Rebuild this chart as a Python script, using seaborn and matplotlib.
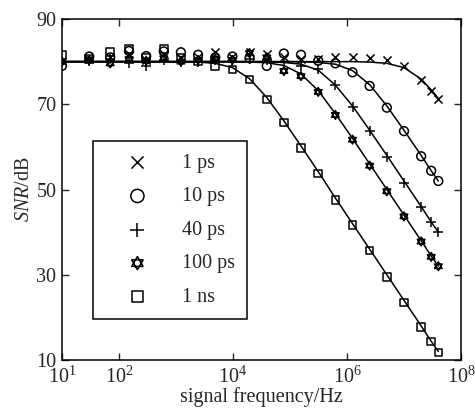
import numpy as np
import pandas as pd
import matplotlib
matplotlib.use("Agg")
import matplotlib.pyplot as plt
import seaborn as sns
from matplotlib.path import Path

# ---------------- data ----------------
freq_hz = [10, 30, 70, 150, 300, 610, 1220, 2440, 4880, 9770, 19500, 39100,
           78100, 156000, 313000, 625000, 1.25e6, 2.5e6, 5e6, 1e7, 2e7, 3e7, 4e7]

series_labels = ["1 ps", "10 ps", "40 ps", "100 ps", "1 ns"]

# simulated SNR points (markers)
snr_1ps = [80.2, 80.6, 81.0, 81.8, 80.4, 81.9, 80.8, 81.0, 82.3, 81.0, 82.3, 81.9,
           81.0, 80.6, 80.6, 81.2, 81.2, 80.8, 80.4, 79.0, 75.8, 73.2, 71.3]
snr_10ps = [79.0, 81.2, 81.0, 82.5, 81.3, 82.4, 82.2, 81.6, 81.0, 81.2, 80.8, 79.0,
            81.9, 81.6, 80.2, 79.6, 77.5, 74.3, 69.2, 63.7, 57.8, 54.4, 52.0]
snr_40ps = [80.0, 80.2, 80.6, 79.6, 79.0, 80.4, 79.8, 80.0, 80.4, 80.2, 80.6, 80.4,
            79.8, 79.0, 78.2, 74.5, 69.3, 63.7, 57.6, 51.6, 45.8, 42.3, 40.0]
snr_100ps = [80.0, 80.4, 79.6, 80.6, 80.2, 80.8, 80.0, 80.4, 80.6, 80.4, 82.0, 81.0,
             77.8, 76.6, 72.9, 67.5, 61.7, 55.6, 49.6, 43.7, 37.8, 34.2, 32.0]
snr_1ns = [81.6, 80.6, 82.2, 82.9, 81.0, 83.0, 80.8, 80.0, 79.0, 78.2, 75.8, 71.1,
           65.7, 59.8, 53.8, 47.5, 41.7, 35.7, 29.5, 23.5, 17.7, 14.3, 11.8]

# theoretical curves (solid lines)
curve_1ps = [80.0, 80.0, 80.0, 80.0, 80.0, 80.0, 80.0, 80.0, 80.0, 80.0, 80.0, 80.0,
             80.0, 80.0, 80.0, 80.0, 80.0, 79.9, 79.6, 78.6, 75.9, 73.4, 71.4]
curve_10ps = [80.0, 80.0, 80.0, 80.0, 80.0, 80.0, 80.0, 80.0, 80.0, 80.0, 80.0, 80.0,
              80.0, 80.0, 79.8, 79.4, 77.9, 74.6, 69.6, 63.9, 58.0, 54.4, 52.0]
curve_40ps = [80.0, 80.0, 80.0, 80.0, 80.0, 80.0, 80.0, 80.0, 80.0, 80.0, 80.0, 80.0,
              79.8, 79.4, 78.0, 74.5, 69.6, 63.9, 58.0, 52.0, 46.0, 42.4, 40.0]
curve_100ps = [80.0, 80.0, 80.0, 80.0, 80.0, 80.0, 80.0, 80.0, 80.0, 80.0, 79.9, 79.75,
               79.1, 77.1, 73.2, 67.8, 62.0, 56.0, 50.0, 44.0, 38.0, 34.4, 32.0]
curve_1ns = [80.0, 80.0, 80.0, 80.0, 80.0, 80.0, 79.97, 79.9, 79.6, 78.6, 76.0, 71.6,
             66.1, 60.2, 54.2, 48.0, 42.0, 36.0, 30.0, 24.0, 18.0, 14.4, 12.0]

x_ticks = [10, 100, 1e4, 1e6, 1e8]
x_tick_labels = [r"$\mathregular{10^{1}}$", r"$\mathregular{10^{2}}$",
                 r"$\mathregular{10^{4}}$", r"$\mathregular{10^{6}}$",
                 r"$\mathregular{10^{8}}$"]
y_ticks = [10, 30, 50, 70, 90]

# ---------------- styling ----------------
sns.set_style("ticks")
plt.rcParams["font.family"] = ["Liberation Serif", "DejaVu Serif"]
plt.rcParams["mathtext.fontset"] = "custom"
plt.rcParams["mathtext.rm"] = "Liberation Serif"
plt.rcParams["mathtext.it"] = "Liberation Serif:italic"
plt.rcParams["font.size"] = 14.5

hexagram = Path(
    [(0, 1), (-0.866, -0.5), (0.866, -0.5), (0, 1),
     (0, -1), (-0.866, 0.5), (0.866, 0.5), (0, -1)],
    [Path.MOVETO, Path.LINETO, Path.LINETO, Path.CLOSEPOLY,
     Path.MOVETO, Path.LINETO, Path.LINETO, Path.CLOSEPOLY])

markers = ["x", "o", "+", hexagram, "s"]
sizes = [34, 40, 50, 40, 30]
filled = [False, True, False, True, True]

snr_all = [snr_1ps, snr_10ps, snr_40ps, snr_100ps, snr_1ns]
curve_all = [curve_1ps, curve_10ps, curve_40ps, curve_100ps, curve_1ns]

fig = plt.figure(figsize=(4.75, 4.08), dpi=100)
ax = fig.add_axes([0.1305, 0.1176, 0.8400, 0.8358])

for lab, snr, curve, mk, sz, fl in zip(series_labels, snr_all, curve_all, markers, sizes, filled):
    df = pd.DataFrame({"f": freq_hz, "snr": snr, "curve": curve})
    sns.lineplot(data=df, x="f", y="curve", ax=ax, color="black", lw=1.1,
                 legend=False, zorder=2)
    if fl:
        sns.scatterplot(data=df, x="f", y="snr", ax=ax, marker=mk, s=sz,
                        facecolor="none", edgecolor="black", linewidth=1.1,
                        label=lab, zorder=3)
    else:
        sns.scatterplot(data=df, x="f", y="snr", ax=ax, marker=mk, s=sz,
                        color="black", linewidth=1.1, label=lab, zorder=3)

ax.set_xscale("log")
ax.set_xlim(10, 1e8)
ax.set_ylim(10, 90)
ax.set_xticks(x_ticks)
ax.set_xticklabels(x_tick_labels)
ax.xaxis.set_minor_locator(matplotlib.ticker.NullLocator())
ax.set_yticks(y_ticks)
ax.tick_params(direction="in", top=True, right=True, length=5, width=1.0,
               labelsize=14.5)
ax.tick_params(axis="x", pad=5)
ax.tick_params(axis="y", pad=4)
for sp in ax.spines.values():
    sp.set_linewidth(1.1)
    sp.set_color("black")

ax.set_xlabel("signal frequency/Hz", fontsize=14.5, labelpad=-1)
ax.set_ylabel(r"$\mathit{SNR}$/dB", fontsize=14.5, labelpad=2)

leg = ax.legend(loc="lower left", bbox_to_anchor=(0.078, 0.12), frameon=True,
                fancybox=False, framealpha=1, edgecolor="black",
                markerscale=1.5, handlelength=3.2, handletextpad=0.6,
                labelspacing=0.72, borderpad=0.6, borderaxespad=0,
                fontsize=14.5)
leg.get_frame().set_linewidth(1.1)

fig.savefig("out.png", dpi=100)
